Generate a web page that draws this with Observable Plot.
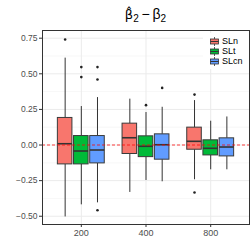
<!DOCTYPE html>
<html>
<head>
<meta charset="utf-8">
<script src="https://cdn.jsdelivr.net/npm/d3@7"></script>
<script src="https://cdn.jsdelivr.net/npm/@observablehq/plot@0.6"></script>
<style>
  body { margin: 0; background: #fff; font-family: "Liberation Sans", Arial, sans-serif; }
  #wrap { position: relative; width: 252px; height: 252px; overflow: hidden; }
  #title { position: absolute; left: 42px; width: 207px; top: 6px; text-align: center; font-size: 14px; line-height: 16px; color: #000; }
  #title .b { font-family: "DejaVu Sans", sans-serif; font-size: 13px; }
  #title sub { font-size: 10px; vertical-align: -3px; line-height: 0; }
  #chart { position: absolute; left: 0; top: 29px; }
  #legend { position: absolute; left: 203px; top: 33px; width: 46px; background: #fff; padding: 3px 0 3px 0; }
  .row { display: flex; align-items: center; height: 10px; font-size: 9px; color: #000; }
  .row svg { margin-left: 7px; margin-right: 3px; }
</style>
</head>
<body>
<div id="wrap">
  <div id="title"><span class="b">β&#x302;</span><sub>2</sub>&#x2009;−&#x2009;β<sub>2</sub></div>
  <div id="chart"></div>
  <div id="legend"></div>
</div>
<script>
const groups = ["200", "400", "800"];
const series = ["SLn", "SLt", "SLcn"];
const colors = ["#F8766D", "#00BA38", "#619CFF"];

// box statistics per group: [lower whisker, Q1, median, Q3, upper whisker]
const SLn  = [[-0.505, -0.136,  0.009, 0.190, 0.610],
              [-0.333, -0.063,  0.051, 0.150, 0.322],
              [-0.244, -0.033,  0.026, 0.122, 0.312]];
const SLt  = [[-0.420, -0.136, -0.042, 0.063, 0.270],
              [-0.249, -0.085, -0.009, 0.061, 0.228],
              [-0.174, -0.073, -0.023, 0.033, 0.167]];
const SLcn = [[-0.406, -0.129, -0.035, 0.063, 0.333],
              [-0.258, -0.103,  0.002, 0.075, 0.265],
              [-0.174, -0.080, -0.014, 0.047, 0.197]];

// outliers per group
const SLnOut  = [[0.741], [], [0.354, -0.333]];
const SLtOut  = [[0.547, 0.477], [0.280], []];
const SLcnOut = [[0.547, 0.460, -0.458], [0.401], []];

const yTicks = [-0.5, -0.25, 0, 0.25, 0.5, 0.75];
const yMinor = [-0.375, -0.125, 0.125, 0.375, 0.625];
const refLine = [0];

const stats = [SLn, SLt, SLcn];
const outs = [SLnOut, SLtOut, SLcnOut];
const dodge = 0.25, boxW = 0.225;

const rows = [];
const pts = [];
stats.forEach((s, si) => {
  s.forEach((v, gi) => {
    const x = gi + 1 + (si - 1) * dodge;
    rows.push({series: series[si], group: groups[gi], x, x1: x - boxW / 2, x2: x + boxW / 2,
               lo: v[0], q1: v[1], med: v[2], q3: v[3], hi: v[4]});
    outs[si][gi].forEach(y => pts.push({series: series[si], group: groups[gi], x, y}));
  });
});

const fmt = d => (d < 0 ? "\u2212" : "") + Math.abs(d).toFixed(2);

const chart = Plot.plot({
  width: 252,
  height: 223,
  marginTop: 1,
  marginBottom: 28,
  marginLeft: 42,
  marginRight: 3,
  style: {fontFamily: "'Liberation Sans', Arial, sans-serif", background: "#fff"},
  x: {domain: [0.4, 3.6], axis: null},
  y: {domain: [-0.558, 0.804], axis: null},
  color: {domain: series, range: colors},
  marks: [
    Plot.ruleY(yMinor, {stroke: "#f2f2f2", strokeWidth: 0.6}),
    Plot.ruleY(yTicks, {stroke: "#ebebeb", strokeWidth: 1}),
    Plot.ruleX([1, 2, 3], {stroke: "#ebebeb", strokeWidth: 1}),
    Plot.ruleX(rows, {x: "x", y1: "lo", y2: "q1", stroke: "#333", strokeWidth: 1}),
    Plot.ruleX(rows, {x: "x", y1: "q3", y2: "hi", stroke: "#333", strokeWidth: 1}),
    Plot.rect(rows, {x1: "x1", x2: "x2", y1: "q1", y2: "q3", fill: "series", stroke: "#3a3a3a", strokeWidth: 1}),
    Plot.ruleY(rows, {x1: "x1", x2: "x2", y: "med", stroke: "#333", strokeWidth: 1.6}),
    Plot.dot(pts, {x: "x", y: "y", r: 1.3, fill: "#222", stroke: null}),
    Plot.ruleY(refLine, {stroke: "red", strokeOpacity: 0.5, strokeDasharray: "3,2", strokeWidth: 1.3}),
    Plot.frame({stroke: "#333", strokeWidth: 1}),
    Plot.axisY({ticks: yTicks, tickFormat: fmt, tickSize: 3, tickPadding: 2, fontSize: 8.5, fill: "#4d4d4d", stroke: "#333"}),
    Plot.axisX({ticks: [1, 2, 3], tickFormat: i => groups[i - 1], tickSize: 3, tickPadding: 2, fontSize: 9, fill: "#4d4d4d", stroke: "#333"})
  ]
});
document.getElementById("chart").appendChild(chart);

// legend
const leg = document.getElementById("legend");
series.forEach((s, i) => {
  const row = document.createElement("div");
  row.className = "row";
  row.innerHTML = `<svg width="9" height="9" viewBox="0 0 9 9">
    <line x1="4.5" x2="4.5" y1="0" y2="9" stroke="#333" stroke-width="0.8"/>
    <rect x="0.5" y="2" width="8" height="5" fill="${colors[i]}" stroke="#333" stroke-width="0.8"/>
    <line x1="0.5" x2="8.5" y1="4.5" y2="4.5" stroke="#333" stroke-width="1"/>
  </svg><span>${s}</span>`;
  leg.appendChild(row);
});
</script>
</body>
</html>
